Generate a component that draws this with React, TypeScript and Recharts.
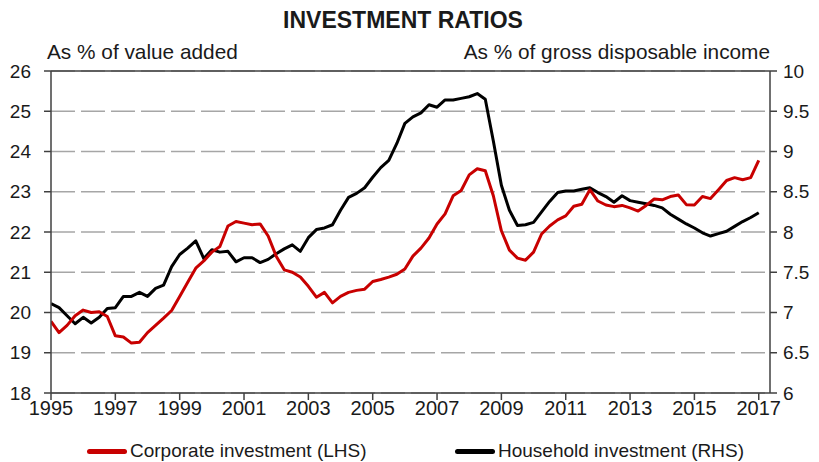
import React from "react";
import { LineChart, Line, XAxis, YAxis, CartesianGrid, ReferenceLine } from "recharts";

const startYear = 1995;
const yearTicks = [1995, 1997, 1999, 2001, 2003, 2005, 2007, 2009, 2011, 2013, 2015, 2017];
const leftTicks = [18, 19, 20, 21, 22, 23, 24, 25, 26];
const rightTicks = [6, 6.5, 7, 7.5, 8, 8.5, 9, 9.5, 10];

// Quarterly, 1995Q1 - 2017Q1
const corporate = [
  19.78, 19.5, 19.68, 19.92, 20.06, 20.0, 20.02, 19.9, 19.42, 19.39,
  19.24, 19.26, 19.5, 19.68, 19.86, 20.05, 20.4, 20.75, 21.1, 21.28,
  21.5, 21.64, 22.15, 22.26, 22.22, 22.18, 22.2, 21.9, 21.4, 21.06,
  21.0, 20.88, 20.65, 20.38, 20.5, 20.24, 20.4, 20.5, 20.55, 20.58,
  20.77, 20.82, 20.88, 20.95, 21.08, 21.4, 21.6, 21.85, 22.2, 22.45,
  22.9, 23.03, 23.42, 23.57, 23.52, 22.9, 22.03, 21.55, 21.35, 21.3,
  21.5, 21.95, 22.15, 22.3, 22.4, 22.64, 22.69, 23.05, 22.77, 22.67,
  22.63, 22.66, 22.6, 22.52, 22.66, 22.82, 22.8, 22.88, 22.92, 22.68,
  22.67, 22.88, 22.83, 23.05, 23.28, 23.35, 23.3, 23.35, 23.78,
];

const household = [
  7.11, 7.06, 6.96, 6.86, 6.94, 6.87, 6.94, 7.05, 7.06, 7.2,
  7.2, 7.25, 7.2, 7.3, 7.34, 7.57, 7.72, 7.8, 7.89, 7.67,
  7.78, 7.75, 7.76, 7.63, 7.68, 7.68, 7.62, 7.66, 7.73, 7.79,
  7.84, 7.76, 7.93, 8.03, 8.05, 8.09, 8.27, 8.43, 8.48, 8.55,
  8.68, 8.8, 8.89, 9.1, 9.35, 9.43, 9.48, 9.58, 9.55, 9.64,
  9.64, 9.66, 9.68, 9.72, 9.65, 9.13, 8.58, 8.27, 8.08, 8.09,
  8.12, 8.25, 8.38, 8.49, 8.51, 8.51, 8.53, 8.55, 8.49, 8.44,
  8.37, 8.45, 8.39, 8.37, 8.35, 8.33, 8.3, 8.22, 8.16, 8.1,
  8.05, 7.99, 7.95, 7.98, 8.01, 8.07, 8.13, 8.18, 8.24,
];

const data = corporate.map((c, i) => ({
  t: startYear + i / 4,
  corporate: c,
  household: household[i],
}));

const FONT = "'Liberation Sans', Arial, Helvetica, sans-serif";
const TEXT = "#1a1a1a";
const RED = "#c80000";

export default function App() {
  return (
    <div style={{ position: "absolute", left: 0, top: 0, width: 819, height: 462, background: "#fff", fontFamily: FONT, color: TEXT }}>
      <LineChart width={819} height={462} data={data} margin={{ top: 71, right: 0, bottom: 39, left: 0 }}>
        <CartesianGrid vertical={false} stroke="#a6a6a6" strokeWidth={1.5} strokeDasharray="24 6" yAxisId="left" />
        <XAxis
          dataKey="t"
          type="number"
          domain={[1995, 2017.35]}
          ticks={yearTicks}
          allowDataOverflow
          height={30}
          tickSize={7}
          tickMargin={1}
          stroke="#404040"
          strokeWidth={1.5}
          tick={{ fill: TEXT, fontSize: 20, fontFamily: FONT }}
        />
        <YAxis
          yAxisId="left"
          orientation="left"
          domain={[18, 26]}
          ticks={leftTicks}
          width={51}
          tickSize={7}
          tickMargin={13}
          stroke="#404040"
          strokeWidth={1.5}
          tick={{ fill: TEXT, fontSize: 19, fontFamily: FONT }}
        />
        <YAxis
          yAxisId="right"
          orientation="right"
          domain={[6, 10]}
          ticks={rightTicks}
          width={49}
          tickSize={7}
          tickMargin={6}
          stroke="#404040"
          strokeWidth={1.5}
          tick={{ fill: TEXT, fontSize: 19, fontFamily: FONT, textAnchor: "start" }}
        />
        <ReferenceLine yAxisId="left" y={26} stroke="#404040" strokeWidth={1.5} />
        <Line
          yAxisId="right"
          dataKey="household"
          type="linear"
          stroke="#000"
          strokeWidth={3}
          dot={false}
          strokeLinejoin="round"
          isAnimationActive={false}
        />
        <Line
          yAxisId="left"
          dataKey="corporate"
          type="linear"
          stroke={RED}
          strokeWidth={3}
          dot={false}
          strokeLinejoin="round"
          isAnimationActive={false}
        />
      </LineChart>

      <div style={{ position: "absolute", left: 0, width: 806, top: 6, textAlign: "center", fontWeight: "bold", fontSize: 23, lineHeight: "28px" }}>
        INVESTMENT RATIOS
      </div>
      <div style={{ position: "absolute", left: 47, top: 40, fontSize: 20.8, lineHeight: "24px", whiteSpace: "nowrap" }}>
        As % of value added
      </div>
      <div style={{ position: "absolute", right: 819 - 770, top: 40, fontSize: 20.8, lineHeight: "24px", whiteSpace: "nowrap" }}>
        As % of gross disposable income
      </div>

      <div style={{ position: "absolute", left: 87, top: 449, width: 40, height: 5, borderRadius: 3, background: RED }} />
      <div style={{ position: "absolute", left: 130, top: 439, fontSize: 19, lineHeight: "24px", whiteSpace: "nowrap" }}>
        Corporate investment (LHS)
      </div>
      <div style={{ position: "absolute", left: 455, top: 449, width: 40, height: 5, borderRadius: 3, background: "#000" }} />
      <div style={{ position: "absolute", left: 498, top: 439, fontSize: 19, lineHeight: "24px", whiteSpace: "nowrap" }}>
        Household investment (RHS)
      </div>
    </div>
  );
}
